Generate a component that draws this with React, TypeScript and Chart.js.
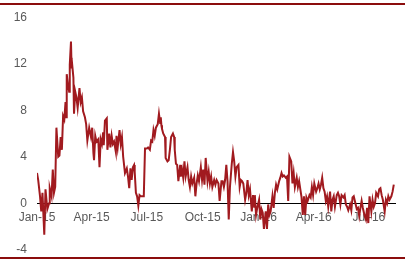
import React, { useEffect, useRef } from "react";
import { Chart, registerables } from "chart.js";

Chart.register(...registerables);

// x positions: days since 1 Jan 2015
const dayOffsets: number[] = [
  0, 2, 5, 7, 9, 12, 14, 17, 20, 21, 24, 26, 28, 30, 32, 35, 37, 39, 41, 43,
  45, 47, 48, 49, 51, 53, 54, 56, 57, 58, 60, 61, 63, 65, 67, 70, 72, 74, 76, 79,
  81, 83, 86, 89, 91, 93, 94, 96, 98, 101, 103, 105, 107, 109, 110, 112, 115, 116, 119, 121,
  123, 125, 127, 130, 131, 133, 136, 138, 140, 142, 145, 148, 150, 152, 154, 156, 158, 160, 161, 163,
  165, 167, 169, 171, 174, 176, 178, 181, 183, 186, 188, 190, 192, 194, 196, 199, 201, 203, 204, 205,
  206, 208, 211, 212, 215, 217, 219, 221, 224, 226, 227, 229, 231, 233, 236, 237, 239, 241, 243, 245,
  248, 250, 252, 254, 256, 259, 261, 263, 265, 267, 270, 272, 274, 276, 278, 281, 283, 285, 287, 289,
  292, 294, 296, 299, 301, 304, 306, 308, 310, 312, 314, 316, 318, 321, 323, 325, 327, 329, 332, 334,
  336, 338, 340, 343, 345, 347, 349, 351, 354, 356, 358, 359, 361, 363, 366, 368, 370, 372, 374, 377,
  379, 381, 383, 385, 388, 390, 392, 394, 396, 399, 401, 403, 405, 407, 410, 412, 414, 416, 419, 421,
  423, 425, 428, 430, 432, 434, 436, 438, 440, 442, 444, 446, 449, 451, 453, 455, 457, 460, 462, 464,
  466, 468, 470, 472, 474, 476, 478, 480, 483, 485, 487, 489, 491, 494, 496, 498, 500, 502, 505, 507,
  509, 511, 513, 516, 518, 520, 522, 527, 529, 531, 533, 535, 537, 540, 542, 544, 546, 548, 551, 553,
  555, 557, 559, 562, 564, 566, 568, 570, 573, 575, 577, 579, 581, 584, 586, 588,
];

const seriesValues: number[] = [
  2.6, 2.0, 0.6, -0.7, 0.9, -2.7, 1.2, -0.5, 0.0, 1.3, 0.6, 2.9, 0.9, 1.4, 6.5, 4.0, 4.1, 5.7, 4.6, 7.5,
  7.2, 8.7, 7.4, 11.1, 10.2, 9.6, 11.9, 13.9, 11.6, 11.9, 10.8, 7.7, 9.6, 9.1, 8.2, 9.9, 8.7, 9.1, 7.9, 7.4,
  6.8, 5.4, 6.5, 5.7, 6.5, 4.3, 3.7, 5.8, 5.3, 5.5, 3.1, 5.5, 5.1, 6.1, 5.0, 7.1, 7.3, 4.6, 6.0, 4.8,
  5.8, 5.1, 5.3, 4.4, 5.8, 4.8, 6.3, 5.1, 5.7, 4.0, 2.6, 3.0, 2.3, 1.3, 3.0, 2.0, 3.1, 3.3, 2.7, 0.9,
  0.6, -0.2, 0.7, 0.6, 0.6, 0.6, 4.7, 4.7, 4.8, 4.6, 5.4, 5.3, 6.3, 5.8, 6.5, 6.8, 7.7, 6.9, 7.4, 6.7,
  6.4, 6.0, 5.7, 3.9, 3.6, 3.7, 4.6, 5.7, 6.0, 5.7, 4.6, 3.4, 3.3, 1.9, 3.3, 2.3, 2.9, 2.2, 3.6, 2.3,
  3.1, 2.0, 1.4, 2.3, 1.7, 2.2, 0.6, 1.7, 2.4, 1.9, 3.1, 2.0, 2.9, 1.6, 3.9, 1.9, 2.7, 1.7, 2.3, 1.4,
  2.0, 1.6, 2.0, 1.7, 0.2, 1.9, 1.9, 1.4, 2.0, 3.3, 1.9, -1.4, 1.4, 3.4, 4.4, 3.6, 2.3, 3.1, 3.3, 1.4,
  2.0, 1.9, 1.7, 0.3, 0.9, 2.0, 0.7, 1.2, -0.7, 0.7, -0.3, 0.7, -1.0, -0.4, 0.3, -1.4, -0.5, -0.8, -2.2, -0.7,
  -2.2, -0.1, -1.0, -0.7, 0.6, -0.4, 0.9, 1.6, 1.2, 1.9, 2.2, 2.6, 2.3, 2.4, 2.2, 2.3, 0.2, 4.0, 3.6, 1.7,
  2.6, 1.4, 2.2, 1.4, 1.9, 1.2, 0.5, -1.0, 0.6, -1.0, 0.5, 0.2, 0.7, 0.5, 1.4, 0.7, 1.7, 1.0, 1.3, 1.7,
  1.2, 1.6, 2.2, 1.3, 1.0, 0.2, 0.6, -0.3, 1.0, -0.7, 0.3, 0.6, -0.3, 0.7, 0.9, 0.6, -0.1, 0.7, 0.5, 0.7,
  -0.1, -0.3, -0.6, -0.1, -0.6, 0.5, 0.6, -0.5, -0.4, -1.1, -0.4, 0.2, -0.4, -1.1, -1.4, -0.4, -1.7, 0.6, -0.7, 0.3,
  -0.3, 0.0, 0.9, 0.6, 1.2, 1.3, 0.7, 0.3, -0.7, 0.3, 0.0, 0.6, 0.3, 0.6, 1.0, 1.6,
];

const tickDays: number[] = [0, 90, 181, 273, 365, 456, 547];
const tickLabels: string[] = ["Jan-15", "Apr-15", "Jul-15", "Oct-15", "Jan-16", "Apr-16", "Jul-16"];

const FONT = "Arial, 'Liberation Sans', sans-serif";

export default function App() {
  const ref = useRef<HTMLCanvasElement | null>(null);

  useEffect(() => {
    document.body.style.margin = "0";
    const canvas = ref.current;
    if (!canvas) return;
    const points = dayOffsets.map((d, i) => ({ x: d, y: seriesValues[i] }));
    const chart = new Chart(canvas, {
      type: "line",
      data: {
        datasets: [
          {
            data: points,
            borderColor: "#a11a1f",
            borderWidth: 2,
            pointRadius: 0,
            tension: 0,
            fill: false,
          },
        ],
      },
      options: {
        animation: false,
        responsive: false,
        maintainAspectRatio: false,
        layout: { padding: { top: 14, bottom: 16, right: 18, left: 0 } },
        plugins: { legend: { display: false }, tooltip: { enabled: false } },
        scales: {
          x: {
            type: "linear",
            min: 0,
            max: 590,
            position: { y: 0 } as any,
            grid: { display: false, drawTicks: false },
            border: { display: true, color: "#000000", width: 1 },
            afterBuildTicks: (scale: any) => {
              scale.ticks = tickDays.map((v) => ({ value: v }));
            },
            ticks: {
              autoSkip: false,
              maxRotation: 0,
              padding: 7,
              color: "#595959",
              font: { family: FONT, size: 12 },
              callback: (v: any) => {
                const i = tickDays.indexOf(Number(v));
                return i >= 0 ? tickLabels[i] : "";
              },
            },
          },
          y: {
            type: "linear",
            min: -4,
            max: 16,
            position: "left",
            grid: { display: false, drawTicks: false },
            border: { display: false },
            afterFit: (s: any) => {
              s.width = 37;
            },
            ticks: {
              stepSize: 4,
              padding: 10,
              color: "#595959",
              font: { family: FONT, size: 12 },
            },
          },
        },
      },
    });
    return () => chart.destroy();
  }, []);

  return (
    <div style={{ position: "fixed", left: 0, top: 0, width: 413, height: 267, background: "#fff" }}>
      <div style={{ position: "absolute", left: 0, top: 3, width: 405, height: 2, background: "#8b0d0d" }} />
      <canvas ref={ref} width={413} height={267} style={{ position: "absolute", left: 0, top: 0 }} />
      <div style={{ position: "absolute", left: 0, top: 257, width: 405, height: 2, background: "#8b0d0d" }} />
    </div>
  );
}
